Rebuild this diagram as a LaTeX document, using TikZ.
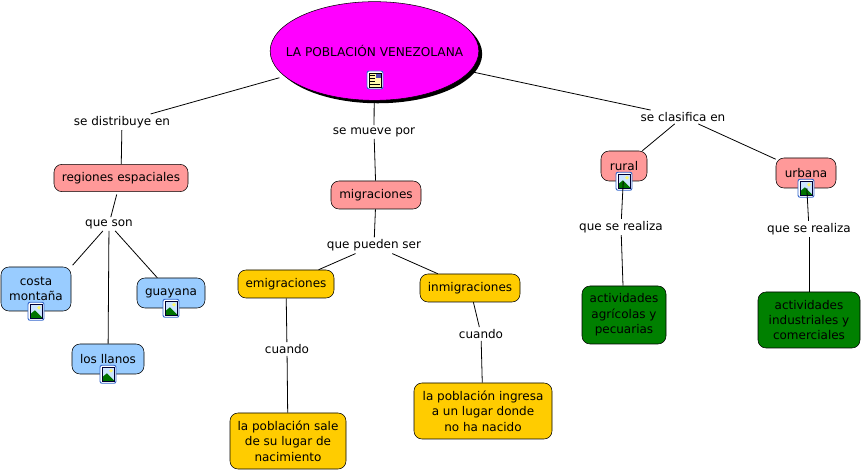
\documentclass[tikz,border=0pt]{standalone}
\usepackage{fontspec}
\setmainfont{DejaVu Sans}
\usetikzlibrary{shapes.geometric,shadows}
\definecolor{topcol}{HTML}{FF00FF}
\definecolor{pinkcol}{HTML}{FF9999}
\definecolor{bluecol}{HTML}{99CCFF}
\definecolor{yellowcol}{HTML}{FFCC00}
\definecolor{greencol}{HTML}{008000}
\definecolor{iconblue}{HTML}{3366CC}
\definecolor{skycol}{HTML}{CCE5FF}
\tikzset{
    box/.style={draw=black, rounded corners=6pt, align=center, inner sep=0pt, font=\fontsize{9}{11.5}\selectfont},
    lbl/.style={fill=white, inner xsep=0.5pt, inner ysep=1.5pt, font=\fontsize{9}{11.5}\selectfont},
    conn/.style={draw=black, line width=0.6pt},
    imgicon/.pic={
        \draw[iconblue, fill=white, line width=0.7pt, rounded corners=1.5pt] (-8,-9) rectangle (8,9);
        \fill[skycol] (-6,-7) rectangle (6,7);
        \fill[yellow!60!white] (3,-3.5) circle (1.8);
        \fill[green!45!black] (-6,7) -- (-6,3) -- (-1,-1) -- (6,6) -- (6,7) -- cycle;
        \draw[black!80!blue, line width=0.7pt] (-6,-7) rectangle (6,7);
    },
    docicon/.pic={
        \draw[iconblue, fill=white, line width=0.7pt, rounded corners=1.5pt] (-8,-9) rectangle (8,9);
        \fill[yellow!35] (-6,-7) rectangle (6,7);
        \fill[gray!60!blue] (1,-7) rectangle (6,-2);
        \foreach \i in {-5, -2, 1, 4} {
            \draw[black, line width=0.5pt] (-5,\i) -- (0,\i);
        }
        \draw[black, line width=0.5pt] (-5,4) -- (5,4);
        \draw[black, line width=0.7pt] (-6,-7) rectangle (6,7);
    }
}
\begin{document}
\begin{tikzpicture}[x=0.75pt, y=-0.75pt]
    \useasboundingbox (0,0) rectangle (861,470);

    \node[ellipse, draw=black, fill=topcol, minimum width=156.5pt, minimum height=74pt, inner sep=0pt,
        drop shadow={shadow xshift=2.5pt, shadow yshift=-2.2pt, fill=black, opacity=1}] (poblacion) at (374.5,51) {};
    \node[inner sep=0pt, font=\fontsize{9.1}{12}\selectfont] (poblaciontxt) at (374.5,51) {LA POBLACIÓN VENEZOLANA};

    \node[lbl] (distribuye) at (122,122) {se distribuye en};
    \node[lbl] (mueve) at (374,132) {se mueve por};
    \node[lbl] (clasifica) at (683,117) {se clasifica en};

    \node[box, fill=pinkcol, minimum width=100.5pt, minimum height=20.5pt] (regiones) at (121,178) {regiones espaciales};
    \node[box, fill=pinkcol, minimum width=67.5pt, minimum height=21pt] (migraciones) at (376,195) {migraciones};
    \node[box, fill=pinkcol, minimum width=34.5pt, minimum height=22.5pt] (rural) at (624,166) {rural};
    \node[box, fill=pinkcol, minimum width=45pt, minimum height=22.5pt] (urbana) at (806,173) {urbana};

    \node[lbl] (queson) at (109,224) {que son};
    \node[box, fill=bluecol, minimum width=52.5pt, minimum height=33pt] (costa) at (36,289) {costa\\montaña};
    \node[box, fill=bluecol, minimum width=51pt, minimum height=22.5pt] (guayana) at (171,293) {guayana};
    \node[box, fill=bluecol, minimum width=54pt, minimum height=22.5pt] (llanos) at (108,359) {los llanos};

    \node[lbl] (pueden) at (374,245.5) {que pueden ser};
    \node[box, fill=yellowcol, minimum width=72pt, minimum height=21pt] (emigraciones) at (286,284) {emigraciones};
    \node[box, fill=yellowcol, minimum width=75pt, minimum height=21pt] (inmigraciones) at (470,288) {inmigraciones};
    \node[lbl] (cuandoa) at (287,349) {cuando};
    \node[lbl] (cuandob) at (481,334) {cuando};
    \node[box, fill=yellowcol, minimum width=87pt, minimum height=42pt] (sale) at (288,441) {la población sale\\de su lugar de\\nacimiento};
    \node[box, fill=yellowcol, minimum width=103.5pt, minimum height=42pt] (ingresa) at (483,411) {la población ingresa\\a un lugar donde\\no ha nacido};

    \node[lbl] (realizaa) at (621,227) {que se realiza};
    \node[lbl] (realizab) at (809,229) {que se realiza};
    \node[box, fill=greencol, minimum width=63pt, minimum height=43.5pt] (agricolas) at (624,315) {actividades\\agrícolas y\\pecuarias};
    \node[box, fill=greencol, minimum width=76.5pt, minimum height=42pt] (industriales) at (809,320) {actividades\\industriales y\\comerciales};

    \path (poblacion.center) ++(0.5,29) pic {docicon};
    \path (costa.south) pic {imgicon};
    \path (guayana.south) pic {imgicon};
    \path (llanos.south) pic {imgicon};
    \path (rural.south) pic {imgicon};
    \path (urbana.south) pic {imgicon};

    \draw[conn, shorten <=4pt] (poblacion) -- (distribuye);
    \draw[conn] (poblacion) -- (mueve);
    \draw[conn] (poblacion) -- (clasifica);
    \draw[conn] (distribuye) -- (regiones);
    \draw[conn] (mueve) -- (migraciones);
    \draw[conn] (clasifica) -- (rural);
    \draw[conn] (clasifica) -- (urbana);
    \draw[conn, shorten <=2pt] (regiones) -- (queson);
    \draw[conn, shorten >=1.5pt] (queson) -- (costa.north east);
    \draw[conn] (queson) -- (guayana);
    \draw[conn] (queson) -- (llanos);
    \draw[conn] (migraciones) -- (pueden);
    \draw[conn] (pueden) -- (emigraciones);
    \draw[conn] (pueden) -- (inmigraciones);
    \draw[conn] (emigraciones) -- (cuandoa);
    \draw[conn] (cuandoa) -- (sale);
    \draw[conn] (inmigraciones) -- (cuandob);
    \draw[conn] (cuandob) -- (ingresa);
    \draw[conn] (rural) -- (realizaa);
    \draw[conn] (realizaa) -- (agricolas);
    \draw[conn] (urbana) -- (realizab);
    \draw[conn] (realizab) -- (industriales);
\end{tikzpicture}
\end{document}
